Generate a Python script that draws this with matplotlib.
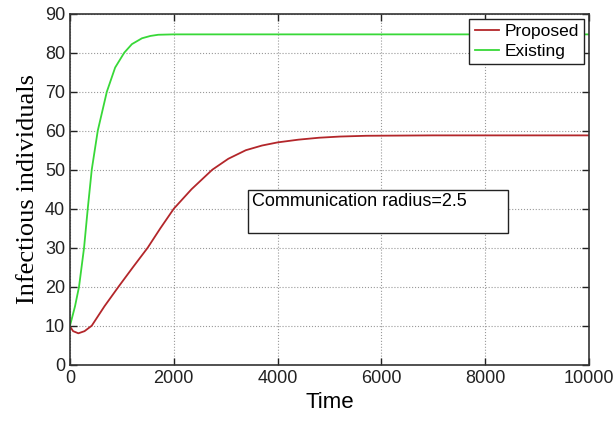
import matplotlib
matplotlib.use('Agg')
import matplotlib.pyplot as plt # http://matplotlib.org/
from matplotlib.patches import Rectangle

# values
t_existing = [0, 97, 174, 271, 342, 419, 535, 710, 870, 1045, 1193, 1387, 1550, 1700, 2000, 3000, 6000, 10000]
existing = [10, 15, 20, 30, 40, 50, 60, 70, 76.2, 80, 82.2, 83.7, 84.3, 84.6, 84.7, 84.7, 84.7, 84.7]

t_proposed = [0, 60, 161, 280, 419, 665, 935, 1213, 1497, 1742, 2000, 2342, 2742, 3050, 3388, 3700, 4000, 4400, 4800, 5200, 5710, 7000, 10000]
proposed = [9.8, 8.6, 8.05, 8.6, 10, 15, 20, 25, 30, 35, 40, 45, 50, 52.8, 55, 56.2, 57.0, 57.7, 58.2, 58.5, 58.7, 58.8, 58.8]

x_ticks = [0, 2000, 4000, 6000, 8000, 10000]
y_ticks = [0, 10, 20, 30, 40, 50, 60, 70, 80, 90]

fig = plt.figure(figsize=(6.14, 4.21), dpi=100)
ax = fig.add_axes([70 / 614, 1 - 364.7 / 421, 519 / 614, 351 / 421])

ax.plot(t_proposed, proposed, color='#b3262a', lw=1.3, label='Proposed')
ax.plot(t_existing, existing, color='#38d838', lw=1.3, label='Existing')

ax.set_xlim(0, 10000)
ax.set_ylim(0, 90)
ax.set_xticks(x_ticks)
ax.set_yticks(y_ticks)
ax.grid(True, linestyle=':', color='#999999', lw=0.8)
ax.tick_params(direction='in', top=True, right=True, labelsize=13, length=5, width=1, colors='#222222')
for s in ax.spines.values():
    s.set_linewidth(1.2)
    s.set_color('#333333')

ax.set_xlabel('Time', fontsize=16, family='Liberation Sans')
ax.set_ylabel('Infectious individuals', fontsize=19, family='Liberation Serif')
for lab in ax.get_xticklabels() + ax.get_yticklabels():
    lab.set_family('Liberation Sans')

leg = ax.legend(loc='upper right', prop={'family': 'Liberation Sans', 'size': 12.5},
                fancybox=False, framealpha=1, edgecolor='#222222', borderaxespad=0.3,
                handlelength=1.4, borderpad=0.3, labelspacing=0.25, handletextpad=0.3)
leg.get_frame().set_linewidth(1)

# annotation box
ax.add_patch(Rectangle((0.343, 0.376), 0.501, 0.123, transform=ax.transAxes,
                       facecolor='white', edgecolor='#222222', lw=1, zorder=5))
ax.text(0.350, 0.490, 'Communication radius=2.5', transform=ax.transAxes,
        fontsize=13, family='Liberation Sans', va='top', ha='left', zorder=6)

plt.savefig('out.png', dpi=100)
